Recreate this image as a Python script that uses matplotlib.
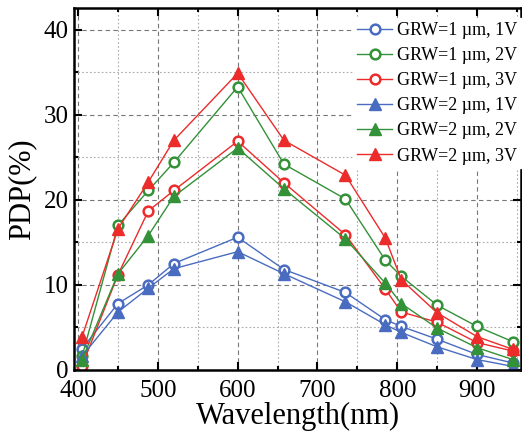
import matplotlib.pyplot as plt
from matplotlib.ticker import MultipleLocator

plt.rcParams['font.family'] = ['Liberation Serif', 'DejaVu Serif']

# wavelengths (nm)
wl = [405, 450, 488, 520, 600, 658, 735, 785, 805, 850, 900, 945]

# PDP (%) for each gate width / excess bias
grw1_1v = [2.5, 7.8, 10.0, 12.5, 15.6, 11.8, 9.1, 5.9, 5.1, 3.6, 1.8, 0.8]
grw1_2v = [1.6, 17.0, 21.1, 24.4, 33.3, 24.2, 20.1, 12.9, 11.0, 7.6, 5.1, 3.3]
grw1_3v = [0.5, 11.2, 18.7, 21.1, 26.9, 22.0, 15.9, 9.5, 6.8, 5.6, 3.2, 2.2]
grw2_1v = [1.6, 6.8, 9.6, 11.9, 13.9, 11.3, 8.0, 5.3, 4.4, 2.7, 1.2, 0.4]
grw2_2v = [1.2, 11.3, 15.8, 20.4, 26.1, 21.3, 15.4, 10.2, 7.8, 4.9, 2.6, 1.2]
grw2_3v = [3.9, 16.6, 22.1, 27.0, 34.9, 27.0, 22.9, 15.5, 10.6, 6.7, 3.9, 2.4]

labels = ['GRW=1 \u00b5m, 1V', 'GRW=1 \u00b5m, 2V', 'GRW=1 \u00b5m, 3V',
          'GRW=2 \u00b5m, 1V', 'GRW=2 \u00b5m, 2V', 'GRW=2 \u00b5m, 3V']

blue = '#4a6cc0'
green = '#339138'
red = '#ec2b2b'

fig = plt.figure(figsize=(5.22, 4.33), dpi=100)
ax = fig.add_axes([0.142, 0.146, 0.856, 0.836])

series = [
    (grw1_1v, blue, 'o'), (grw1_2v, green, 'o'), (grw1_3v, red, 'o'),
    (grw2_1v, blue, '^'), (grw2_2v, green, '^'), (grw2_3v, red, '^'),
]
for (vals, c, m), lab in zip(series, labels):
    if m == 'o':
        ax.plot(wl, vals, '-', color=c, lw=1.0, marker='o', ms=7,
                mfc='white', mec=c, mew=1.8, label=lab)
    else:
        ax.plot(wl, vals, '-', color=c, lw=1.0, marker='^', ms=9,
                mfc=c, mec=c, label=lab)

ax.set_xlim(395, 955)
ax.set_ylim(0, 42.6)
ax.xaxis.set_major_locator(MultipleLocator(100))
ax.xaxis.set_minor_locator(MultipleLocator(50))
ax.yaxis.set_major_locator(MultipleLocator(10))
ax.yaxis.set_minor_locator(MultipleLocator(5))

ax.grid(which='major', ls=(0, (4, 3)), color='#777777', lw=0.8)
ax.grid(which='minor', ls=(0, (1.5, 2)), color='#aaaaaa', lw=0.8)
ax.set_axisbelow(True)

ax.tick_params(which='both', direction='in', top=True, right=True,
               labelsize=18, width=1.5)
ax.tick_params(which='major', length=6, pad=4)
ax.tick_params(which='minor', length=3)
ax.tick_params(axis='x', which='major', pad=7)
for s in ax.spines.values():
    s.set_linewidth(1.8)

ax.set_xlabel('Wavelength(nm)', fontsize=22, labelpad=0)
ax.set_ylabel('PDP(%)', fontsize=22, labelpad=5)

leg = ax.legend(loc='upper right', bbox_to_anchor=(1.0, 0.971),
                fontsize=13, frameon=True, fancybox=False,
                edgecolor='white', framealpha=1, labelspacing=0.45,
                handlelength=1.9, handletextpad=0.3, borderpad=0.2,
                borderaxespad=0.0)

fig.savefig('out.png', dpi=100)
